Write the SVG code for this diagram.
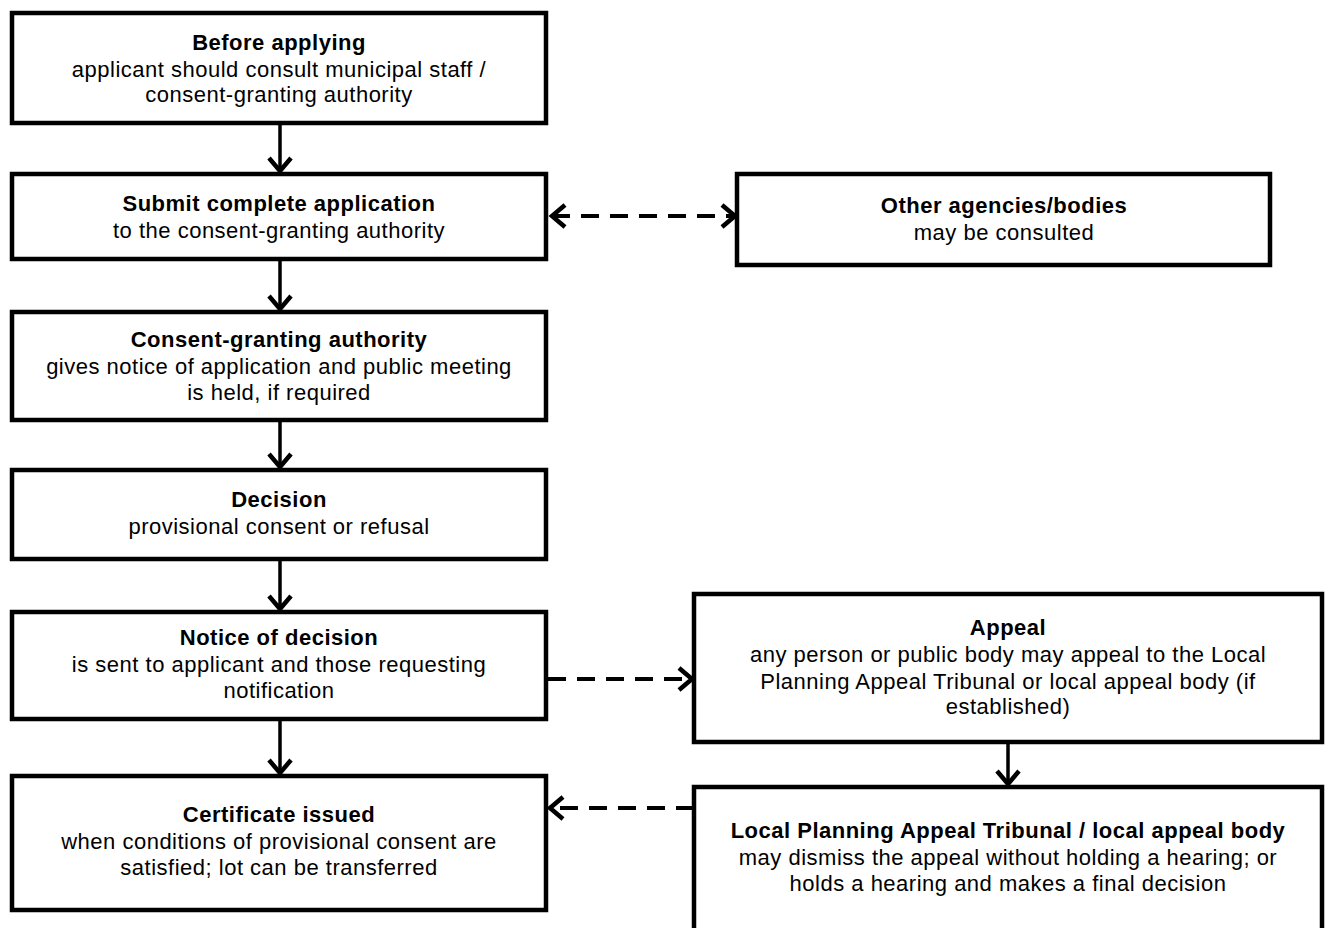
<svg xmlns="http://www.w3.org/2000/svg" width="1326" height="928" viewBox="0 0 1326 928">
<style>
.box{fill:#fff;stroke:#000;stroke-width:4.5}
text{font-family:"Liberation Sans",Arial,sans-serif;font-size:22px;letter-spacing:0.5px;fill:#000;text-anchor:middle}
.t{font-weight:bold}
.ln{stroke:#000;stroke-width:3.5;fill:none}
.dash{stroke:#000;stroke-width:4;fill:none;stroke-dasharray:18 11}
</style>
<defs>
<marker id="ah" markerUnits="userSpaceOnUse" markerWidth="30" markerHeight="30" refX="15" refY="15" orient="auto-start-reverse" viewBox="0 0 30 30" overflow="visible">
<path d="M2,4 L15,15 L2,26" fill="none" stroke="#000" stroke-width="4.5"/>
</marker>
</defs>
<g id="connectors">
<line class="ln" x1="280" y1="123" x2="280" y2="171" marker-end="url(#ah)"/>
<line class="ln" x1="280" y1="259" x2="280" y2="309" marker-end="url(#ah)"/>
<line class="ln" x1="280" y1="420" x2="280" y2="467" marker-end="url(#ah)"/>
<line class="ln" x1="280" y1="559" x2="280" y2="609" marker-end="url(#ah)"/>
<line class="ln" x1="280" y1="719" x2="280" y2="773" marker-end="url(#ah)"/>
<line class="ln" x1="1008" y1="742" x2="1008" y2="784" marker-end="url(#ah)"/>
<line class="dash" x1="552" y1="216" x2="735" y2="216" marker-start="url(#ah)" marker-end="url(#ah)"/>
<line class="dash" x1="548" y1="679" x2="692" y2="679" marker-end="url(#ah)"/>
<line class="dash" x1="694" y1="808" x2="550" y2="808" marker-end="url(#ah)"/>
</g>
<g id="before">
<rect class="box" x="12" y="13" width="534" height="110"/>
<text class="t" x="279" y="50">Before applying</text>
<text x="279" y="77">applicant should consult municipal staff /</text>
<text x="279" y="102">consent-granting authority</text>
</g>
<g id="submit">
<rect class="box" x="12" y="174" width="534" height="85"/>
<text class="t" x="279" y="211">Submit complete application</text>
<text x="279" y="238">to the consent-granting authority</text>
</g>
<g id="other">
<rect class="box" x="737" y="174" width="533" height="91"/>
<text class="t" x="1004" y="213">Other agencies/bodies</text>
<text x="1004" y="240">may be consulted</text>
</g>
<g id="authority">
<rect class="box" x="12" y="312" width="534" height="108"/>
<text class="t" x="279" y="347">Consent-granting authority</text>
<text x="279" y="374">gives notice of application and public meeting</text>
<text x="279" y="400">is held, if required</text>
</g>
<g id="decision">
<rect class="box" x="12" y="470" width="534" height="89"/>
<text class="t" x="279" y="507">Decision</text>
<text x="279" y="534">provisional consent or refusal</text>
</g>
<g id="notice">
<rect class="box" x="12" y="612" width="534" height="107"/>
<text class="t" x="279" y="645">Notice of decision</text>
<text x="279" y="672">is sent to applicant and those requesting</text>
<text x="279" y="698">notification</text>
</g>
<g id="appeal">
<rect class="box" x="694" y="594" width="628" height="148"/>
<text class="t" x="1008" y="635">Appeal</text>
<text x="1008" y="662">any person or public body may appeal to the Local</text>
<text x="1008" y="689">Planning Appeal Tribunal or local appeal body (if</text>
<text x="1008" y="714">established)</text>
</g>
<g id="certificate">
<rect class="box" x="12" y="776" width="534" height="134"/>
<text class="t" x="279" y="822">Certificate issued</text>
<text x="279" y="849">when conditions of provisional consent are</text>
<text x="279" y="875">satisfied; lot can be transferred</text>
</g>
<g id="lpat">
<rect class="box" x="694" y="787" width="628" height="160"/>
<text class="t" x="1008" y="838">Local Planning Appeal Tribunal / local appeal body</text>
<text x="1008" y="865">may dismiss the appeal without holding a hearing; or</text>
<text x="1008" y="891">holds a hearing and makes a final decision</text>
</g>
</svg>
